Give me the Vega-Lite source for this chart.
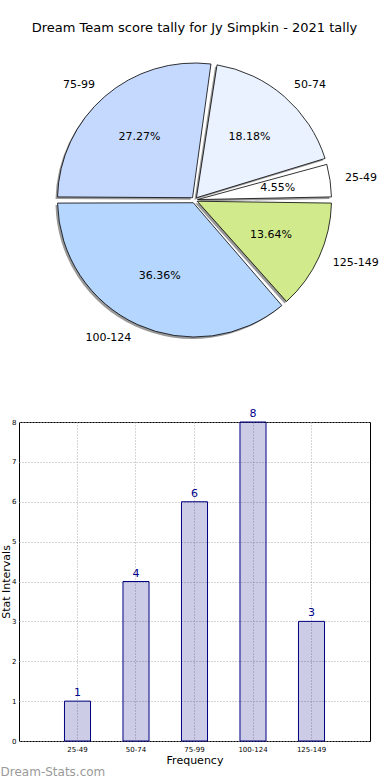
{
  "$schema": "https://vega.github.io/schema/vega-lite/v6.json",
  "padding": {"left": 0, "top": 22, "right": 5, "bottom": 0},
  "background": "white",
  "datasets": {
    "tally": [
      {"cat": "25-49", "k": 1, "count": 1, "pct": "4.55%"},
      {"cat": "50-74", "k": 2, "count": 4, "pct": "18.18%"},
      {"cat": "75-99", "k": 3, "count": 6, "pct": "27.27%"},
      {"cat": "100-124", "k": 4, "count": 8, "pct": "36.36%"},
      {"cat": "125-149", "k": 5, "count": 3, "pct": "13.64%"}
    ]
  },
  "title": {
    "text": "Dream Team score tally for Jy Simpkin - 2021 tally",
    "font": "DejaVu Sans", "fontSize": 13, "fontWeight": "normal", "color": "black",
    "anchor": "middle", "frame": "group", "offset": 15
  },
  "bounds": "flush",
  "spacing": 72,
  "vconcat": [
    {
      "width": 351,
      "height": 300,
      "view": {"stroke": null},
      "data": {"name": "tally"},
      "encoding": {
        "theta": {"field": "count", "type": "quantitative", "stack": true,
          "scale": {"range": [1.5707963, -4.712389]}},
        "order": {"field": "k", "type": "quantitative", "sort": "ascending"}
      },
      "layer": [
        {
          "mark": {"type": "arc", "outerRadius": 137, "innerRadius": 3, "padAngle": 0.045,
            "fill": "#6e6e6e", "opacity": 0.7, "xOffset": -2, "yOffset": 2}
        },
        {
          "mark": {"type": "arc", "outerRadius": 137, "innerRadius": 3, "padAngle": 0.045,
            "stroke": "black", "strokeWidth": 0.8},
          "encoding": {
            "color": {"field": "cat", "type": "nominal", "legend": null,
              "scale": {"domain": ["25-49", "50-74", "75-99", "100-124", "125-149"],
                "range": ["#ffffff", "#eaf1ff", "#c5d9ff", "#b5d6ff", "#d0ea8c"]}}
          }
        },
        {
          "mark": {"type": "text", "radius": 84, "font": "DejaVu Sans", "fontSize": 11,
            "color": "black", "align": "center", "baseline": "middle"},
          "encoding": {"text": {"field": "pct"}}
        },
        {
          "mark": {"type": "text", "radius": 152, "font": "DejaVu Sans", "fontSize": 11,
            "color": "black", "align": "left", "baseline": "middle"},
          "encoding": {"text": {"condition": {"test": "datum.cat == '25-49' || datum.cat == '50-74' || datum.cat == '125-149'", "field": "cat"}, "value": ""}}
        },
        {
          "mark": {"type": "text", "radius": 152, "font": "DejaVu Sans", "fontSize": 11,
            "color": "black", "align": "right", "baseline": "middle"},
          "encoding": {"text": {"condition": {"test": "datum.cat == '75-99' || datum.cat == '100-124'", "field": "cat"}, "value": ""}}
        }
      ]
    },
    {
      "width": 351,
      "height": 319,
      "view": {"stroke": "black", "strokeWidth": 1},
      "data": {"name": "tally"},
      "title": {
        "text": "Dream-Stats.com", "orient": "bottom", "anchor": "start", "frame": "bounds",
        "font": "DejaVu Sans", "fontSize": 12, "fontWeight": "normal", "color": "#9a9a9a", "offset": 2
      },
      "encoding": {
        "x": {"field": "cat", "type": "nominal",
          "sort": ["25-49", "50-74", "75-99", "100-124", "125-149"],
          "scale": {"paddingInner": 0.555, "paddingOuter": 0.7775},
          "axis": {"title": "Frequency", "labelAngle": 0, "labelFont": "DejaVu Sans", "labelFontSize": 7,
            "labelColor": "black", "labelPadding": 4, "ticks": false, "domain": false,
            "grid": true, "bandPosition": 0.5, "gridColor": "#aaaaaa", "gridDash": [1, 2], "gridWidth": 1,
            "titleFont": "DejaVu Sans", "titleFontSize": 11, "titleFontWeight": "normal",
            "titleColor": "black", "titlePadding": 2}},
        "y": {"field": "count", "type": "quantitative",
          "scale": {"domain": [0, 8], "nice": false},
          "axis": {"title": "Stat Intervals", "values": [0, 1, 2, 3, 4, 5, 6, 7, 8],
            "labelFont": "DejaVu Sans", "labelFontSize": 7, "labelColor": "black", "labelPadding": 3,
            "ticks": false, "domain": false,
            "grid": true, "gridColor": "#aaaaaa", "gridDash": [1, 2], "gridWidth": 1,
            "titleFont": "DejaVu Sans", "titleFontSize": 11, "titleFontWeight": "normal",
            "titleColor": "black", "titlePadding": 0}}
      },
      "layer": [
        {
          "mark": {"type": "bar", "fill": "#000080", "fillOpacity": 0.2, "stroke": "#000080", "strokeWidth": 1}
        },
        {
          "mark": {"type": "text", "color": "#00008b", "font": "DejaVu Sans", "fontSize": 11,
            "baseline": "bottom", "dy": -3},
          "encoding": {"text": {"field": "count", "type": "quantitative"}}
        }
      ]
    }
  ]
}
